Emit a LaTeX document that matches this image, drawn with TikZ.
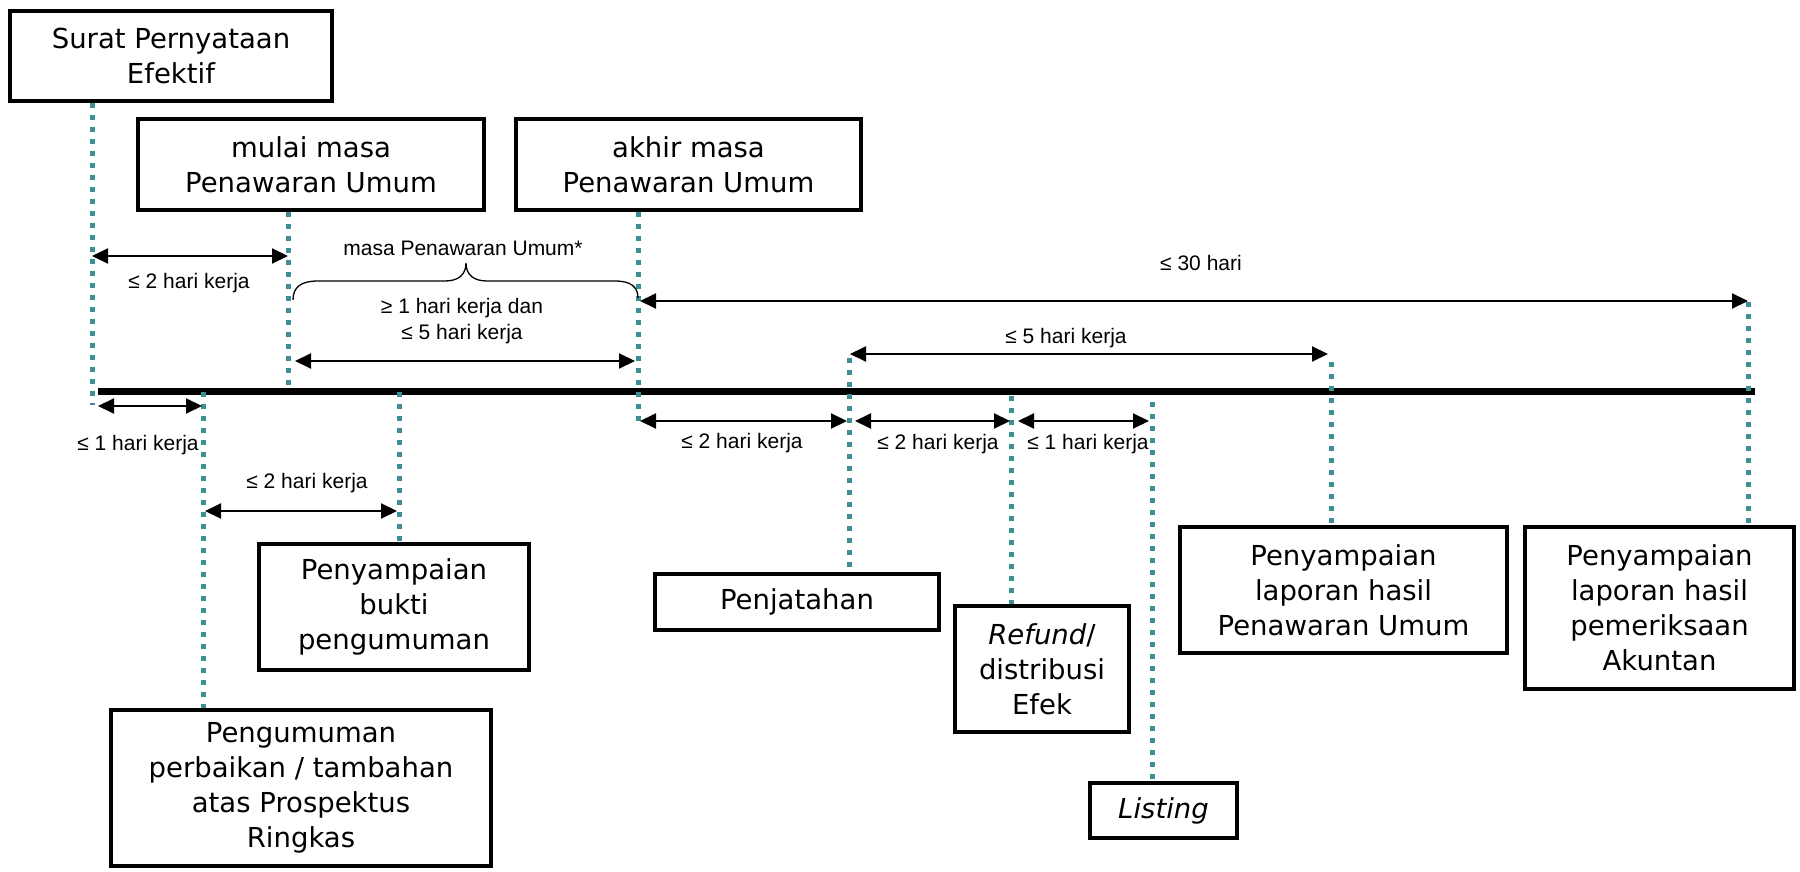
\documentclass[tikz,border=0pt]{standalone}
\usepackage{fontspec}
\setmainfont{DejaVu Sans}
\newfontfamily\labfont{Liberation Sans}
\usetikzlibrary{arrows.meta}
\definecolor{tealdot}{RGB}{62,143,149}
\begin{document}
\begin{tikzpicture}[x=1pt,y=-1pt,
  box/.style={draw, line width=4pt, inner sep=0pt, align=center, fill=white,
    font=\fontsize{27.5}{35}\selectfont},
  tick/.style={draw=tealdot, line width=5pt, dash pattern=on 5pt off 7pt},
  span/.style={line width=2pt, {Triangle[length=16pt,width=15pt]}-{Triangle[length=16pt,width=15pt]}},
  lab/.style={inner sep=0pt, align=center, font=\labfont\fontsize{21}{26}\selectfont},
  axis/.style={line width=7pt}]
\useasboundingbox (0,0) rectangle (1800,872);

% boxes
\node[box, minimum width=322pt, minimum height=90pt] (surat) at (171,56) {Surat Pernyataan\\Efektif};
\node[box, minimum width=346pt, minimum height=91pt] (mulai) at (311,164.5) {mulai masa\\Penawaran Umum};
\node[box, minimum width=345pt, minimum height=91pt] (akhir) at (688.5,164.5) {akhir masa\\Penawaran Umum};
\node[box, minimum width=380pt, minimum height=156pt] (pengumuman) at (301,788) {Pengumuman\\perbaikan / tambahan\\atas Prospektus\\Ringkas};
\node[box, minimum width=270pt, minimum height=126pt] (bukti) at (394,607) {Penyampaian\\bukti\\pengumuman};
\node[box, minimum width=284pt, minimum height=56pt] (penjatahan) at (797,602) {Penjatahan};
\node[box, minimum width=174pt, minimum height=126pt] (refund) at (1042,669) {\textit{Refund}/\\distribusi\\Efek};
\node[box, minimum width=147pt, minimum height=55pt] (listing) at (1163.5,810.5) {\textit{Listing}};
\node[box, minimum width=327pt, minimum height=126pt] (pureport) at (1343.5,590) {Penyampaian\\laporan hasil\\Penawaran Umum};
\node[box, minimum width=269pt, minimum height=162pt] (akuntan) at (1659.5,608) {Penyampaian\\laporan hasil\\pemeriksaan\\Akuntan};

% timeline
\coordinate (t0) at (98,391);
\coordinate (t1) at (1755,391);
\draw[axis] (t0) -- (t1);

% dotted markers
\coordinate (d1) at (92,405);
\coordinate (d2) at (288,390);
\coordinate (d3) at (638,422);
\coordinate (d4) at (203,392);
\coordinate (d5) at (399,392);
\coordinate (d6) at (849,358);
\coordinate (d7) at (1011,396);
\coordinate (d8) at (1152,402);
\coordinate (d9) at (1331,362);
\coordinate (d10) at (1748,302);
\draw[tick] (surat.south -| d1) -- (d1);
\draw[tick] (mulai.south -| d2) -- (d2);
\draw[tick] (akhir.south -| d3) -- (d3);
\draw[tick] (d4) -- (pengumuman.north -| d4);
\draw[tick] (d5) -- (bukti.north -| d5);
\draw[tick] (d6) -- (penjatahan.north -| d6);
\draw[tick] (d7) -- (refund.north -| d7);
\draw[tick] (d8) -- (listing.north -| d8);
\draw[tick] (d9) -- (pureport.north -| d9);
\draw[tick] (d10) -- (akuntan.north -| d10);

% spans
\coordinate (a1l) at (92,256);   \coordinate (a1r) at (288,256);
\coordinate (a2l) at (295,361);  \coordinate (a2r) at (635,361);
\coordinate (a3l) at (640,301);  \coordinate (a3r) at (1748,301);
\coordinate (a4l) at (850,354);  \coordinate (a4r) at (1328,354);
\coordinate (a5l) at (98,406);   \coordinate (a5r) at (202,406);
\coordinate (a6l) at (205,511);  \coordinate (a6r) at (397,511);
\coordinate (a7l) at (640,421);  \coordinate (a7r) at (847,421);
\coordinate (a8l) at (855,421);  \coordinate (a8r) at (1010,421);
\coordinate (a9l) at (1018,421); \coordinate (a9r) at (1149,421);
\draw[span] (a1l) -- (a1r);
\draw[span] (a2l) -- (a2r);
\draw[span] (a3l) -- (a3r);
\draw[span] (a4l) -- (a4r);
\draw[span] (a5l) -- (a5r);
\draw[span] (a6l) -- (a6r);
\draw[span] (a7l) -- (a7r);
\draw[span] (a8l) -- (a8r);
\draw[span] (a9l) -- (a9r);

% brace
\draw[line width=1.3pt] (293,300) .. controls (293,287) and (301,281) .. (318,281) -- (445,281)
  .. controls (458,281) and (466,275) .. (466,263)
  .. controls (466,275) and (474,281) .. (487,281) -- (615,281)
  .. controls (631,281) and (638,287) .. (638,298);

% labels
\node[lab] (l1) at (189,283) {≤ 2 hari kerja};
\node[lab] (l2) at (463,248) {masa Penawaran Umum*};
\node[lab] (l3) at (462,321) {≥ 1 hari kerja dan\\≤ 5 hari kerja};
\node[lab] (l4) at (1201,263) {≤ 30 hari};
\node[lab] (l5) at (1066,338) {≤ 5 hari kerja};
\node[lab] (l6) at (138,445) {≤ 1 hari kerja};
\node[lab] (l7) at (307,483) {≤ 2 hari kerja};
\node[lab] (l8) at (742,443) {≤ 2 hari kerja};
\node[lab] (l9) at (938,444) {≤ 2 hari kerja};
\node[lab] (l10) at (1088,444) {≤ 1 hari kerja};
\end{tikzpicture}
\end{document}
